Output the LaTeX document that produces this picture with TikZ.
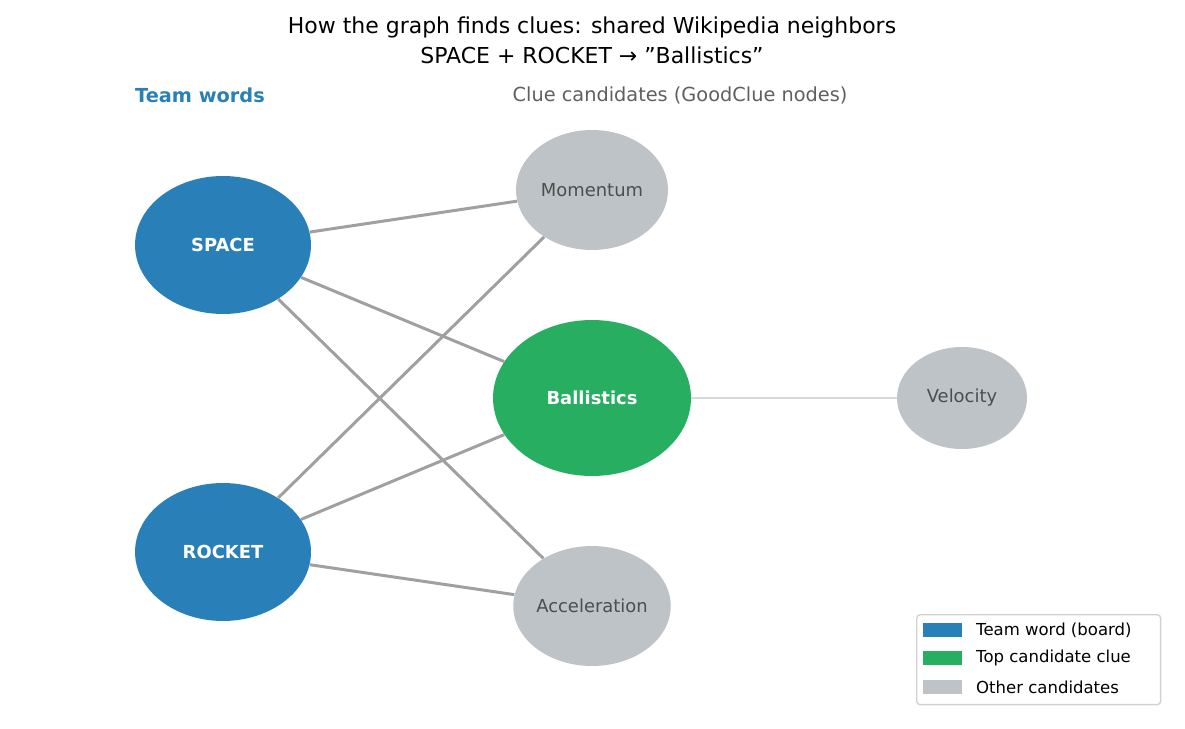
\documentclass[tikz,border=0pt]{standalone}
\usepackage{fontspec}
\setmainfont{DejaVu Sans}
\usetikzlibrary{shapes.geometric}
\definecolor{teamblue}{HTML}{2980B9}
\definecolor{topgreen}{HTML}{27AE60}
\definecolor{othergray}{HTML}{BDC3C7}
\definecolor{edgegray}{HTML}{A0A0A0}
\definecolor{labgray}{HTML}{4D4D4D}
\begin{document}
\begin{tikzpicture}[x=0.02cm,y=-0.02cm,
  nd/.style={ellipse,inner sep=0pt,font=\fontsize{10.2}{12}\selectfont},
  team/.style={nd,fill=teamblue,text=white,font=\fontsize{10.2}{12}\selectfont\bfseries,minimum width=176\pgfmathresult,minimum width=3.52cm,minimum height=2.76cm},
  other/.style={nd,fill=othergray,text=labgray},
  edge/.style={draw=edgegray,line width=1.7pt},
  leg/.style={font=\fontsize{9.4}{11}\selectfont,anchor=west}]
\useasboundingbox (0,0) rectangle (1185,729);
\node[font=\fontsize{12.5}{15}\selectfont] (t1) at (592,27) {How the graph finds clues: shared Wikipedia neighbors};
\node[font=\fontsize{12.5}{15}\selectfont] (t2) at (592,55) {SPACE + ROCKET → "Ballistics"};
\node[font=\fontsize{11}{13}\selectfont\bfseries,text=teamblue] (h1) at (200,95) {Team words};
\node[font=\fontsize{11}{13}\selectfont,text=labgray!90] (h2) at (680,95) {Clue candidates (GoodClue nodes)};
\node[team] (space) at (223,245) {SPACE};
\node[team] (rocket) at (223,552) {ROCKET};
\node[other,minimum width=3.04cm,minimum height=2.4cm] (mom) at (592,190) {Momentum};
\node[nd,fill=topgreen,text=white,font=\fontsize{10.2}{12}\selectfont\bfseries,minimum width=3.96cm,minimum height=3.12cm] (bal) at (592,398) {Ballistics};
\node[other,minimum width=3.04cm,minimum height=2.4cm] (acc) at (592,606) {Acceleration};
\node[other,minimum width=2.6cm,minimum height=2.04cm] (vel) at (962,398) {Velocity};
\draw[edge] (space) -- (mom);
\draw[edge] (space) -- (bal);
\draw[edge] (space) -- (acc);
\draw[edge] (rocket) -- (mom);
\draw[edge] (rocket) -- (bal);
\draw[edge] (rocket) -- (acc);
\draw[draw=gray!30,line width=0.9pt] (bal) -- (vel);
\node[draw=gray!35,rounded corners=2pt,line width=0.8pt,minimum width=4.88cm,minimum height=1.8cm,anchor=north west] (lbox) at (916,614) {};
\node[fill=teamblue,minimum width=0.78cm,minimum height=0.28cm,inner sep=0pt] (p1) at (942,630) {};
\node[fill=topgreen,minimum width=0.78cm,minimum height=0.28cm,inner sep=0pt] (p2) at (942,658) {};
\node[fill=othergray,minimum width=0.78cm,minimum height=0.28cm,inner sep=0pt] (p3) at (942,687) {};
\node[leg] (l1) at (970,630) {Team word (board)};
\node[leg] (l2) at (970,658) {Top candidate clue};
\node[leg] (l3) at (970,687) {Other candidates};
\end{tikzpicture}
\end{document}
